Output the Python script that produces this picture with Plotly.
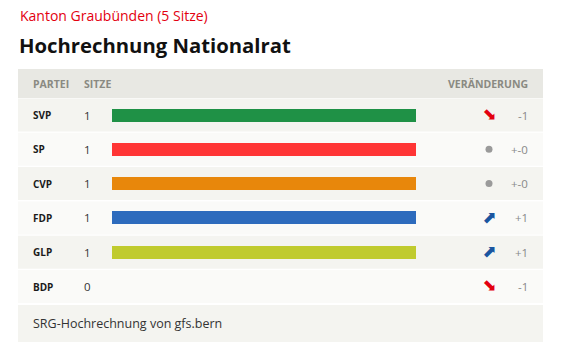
import plotly.graph_objects as go

# ---- data ----
parties = ["SVP", "SP", "CVP", "FDP", "GLP", "BDP"]
seats = [1, 1, 1, 1, 1, 0]
changes = [-1, 0, 0, 1, 1, -1]
change_labels = ["-1", "+-0", "+-0", "+1", "+1", "-1"]
party_colors = ["#1f9146", "#ff3535", "#e8870b", "#2d6bbd", "#c0cb2e", "#f2b600"]
supertitle = "Kanton Graubünden (5 Sitze)"
title = "Hochrechnung Nationalrat"
col_headers = ["PARTEI", "SITZE", "VERÄNDERUNG"]
footer = "SRG-Hochrechnung von gfs.bern"

# ---- layout geometry (pixels) ----
W, H = 582, 354
PX0, PX1 = 18, 543
HEAD_T, HEAD_B = 69, 98
ROW_T0, ROW_P, ROW_H = 98.5, 34.3, 33
FOOT_T, FOOT_B = 305, 342
BAR_X0, BAR_X1 = 112, 416
FONT = "Open Sans, Noto Sans, sans-serif"

row_top = [ROW_T0 + ROW_P * i for i in range(len(parties))]
row_c = [t + ROW_H / 2 for t in row_top]

shapes = []
shapes.append(dict(type="rect", xref="x", yref="y", x0=PX0, x1=PX1, y0=HEAD_T, y1=HEAD_B,
                   fillcolor="#e8e8e3", line_width=0, layer="below"))
for i, t in enumerate(row_top):
    shapes.append(dict(type="rect", xref="x", yref="y", x0=PX0, x1=PX1, y0=t, y1=t + ROW_H,
                       fillcolor="#f4f4f0" if i % 2 == 0 else "#fafaf8", line_width=0, layer="below"))
shapes.append(dict(type="rect", xref="x", yref="y", x0=PX0, x1=PX1, y0=FOOT_T, y1=FOOT_B,
                   fillcolor="#f4f4f0", line_width=0, layer="below"))

fig = go.Figure()
fig.add_trace(go.Bar(x=seats, y=row_c, orientation="h", width=13, marker_color=party_colors,
                     marker_line_width=0, xaxis="x2", yaxis="y", hoverinfo="skip"))

# change indicators
up_y = [row_c[i] for i, c in enumerate(changes) if c > 0]
dn_y = [row_c[i] for i, c in enumerate(changes) if c < 0]
eq_y = [row_c[i] for i, c in enumerate(changes) if c == 0]
fig.add_trace(go.Scatter(x=[489.5] * len(dn_y), y=[v + 0.5 for v in dn_y], mode="text", text=["⬊"] * len(dn_y),
                         textfont=dict(family="DejaVu Sans", size=17, color="#e3000f"),
                         textposition="middle center", xaxis="x", yaxis="y", hoverinfo="skip"))
fig.add_trace(go.Scatter(x=[489.5] * len(up_y), y=[v + 0.5 for v in up_y], mode="text", text=["⬈"] * len(up_y),
                         textfont=dict(family="DejaVu Sans", size=17, color="#1a55a0"),
                         textposition="middle center", xaxis="x", yaxis="y", hoverinfo="skip"))
fig.add_trace(go.Scatter(x=[489] * len(eq_y), y=eq_y, mode="markers",
                         marker=dict(symbol="circle", color="#9a9a9a", size=7, line_width=0),
                         xaxis="x", yaxis="y", hoverinfo="skip"))

ann = []
ann.append(dict(x=PX0, y=15, text=supertitle, xanchor="left", yanchor="middle", showarrow=False,
                font=dict(family=FONT, size=14, color="#e3000f")))
ann.append(dict(x=PX0 - 1, y=45, text="<b>" + title + "</b>", xanchor="left", yanchor="middle", showarrow=False,
                font=dict(family=FONT, size=20.3, color="#111111")))
hc = (HEAD_T + HEAD_B) / 2
ann.append(dict(x=31, y=hc, text="<b>" + col_headers[0] + "</b>", xanchor="left", yanchor="middle", showarrow=False,
                font=dict(family=FONT, size=10.5, color="#8a8a82")))
ann.append(dict(x=82, y=hc, text="<b>" + col_headers[1] + "</b>", xanchor="left", yanchor="middle", showarrow=False,
                font=dict(family=FONT, size=10.5, color="#8a8a82")))
ann.append(dict(x=530, y=hc, text="<b>" + col_headers[2] + "</b>", xanchor="right", yanchor="middle", showarrow=False,
                font=dict(family=FONT, size=10.5, color="#8a8a82")))
for i, p in enumerate(parties):
    ann.append(dict(x=31, y=row_c[i], text="<b>" + p + "</b>", xanchor="left", yanchor="middle", showarrow=False,
                    font=dict(family=FONT, size=10, color="#1a1a1a")))
    ann.append(dict(x=82, y=row_c[i], text=str(seats[i]), xanchor="left", yanchor="middle", showarrow=False,
                    font=dict(family=FONT, size=11.5, color="#333333")))
    ann.append(dict(x=530, y=row_c[i], text=change_labels[i], xanchor="right", yanchor="middle", showarrow=False,
                    font=dict(family=FONT, size=11.5, color="#888888")))
ann.append(dict(x=31, y=(FOOT_T + FOOT_B) / 2, text=footer, xanchor="left", yanchor="middle", showarrow=False,
                font=dict(family=FONT, size=12.5, color="#333333")))
for a in ann:
    a.setdefault("xref", "x"); a.setdefault("yref", "y")

fig.update_layout(
    width=W, height=H, margin=dict(l=0, r=0, t=0, b=0),
    paper_bgcolor="white", plot_bgcolor="rgba(0,0,0,0)", showlegend=False,
    xaxis=dict(range=[0, W], domain=[0, 1], visible=False, fixedrange=True),
    xaxis2=dict(range=[0, max(seats)], domain=[BAR_X0 / W, BAR_X1 / W],
                anchor="y", visible=False),
    yaxis=dict(range=[H, 0], domain=[0, 1], visible=False),
    shapes=shapes, annotations=ann, bargap=0,
)
fig.write_html("out.html")
